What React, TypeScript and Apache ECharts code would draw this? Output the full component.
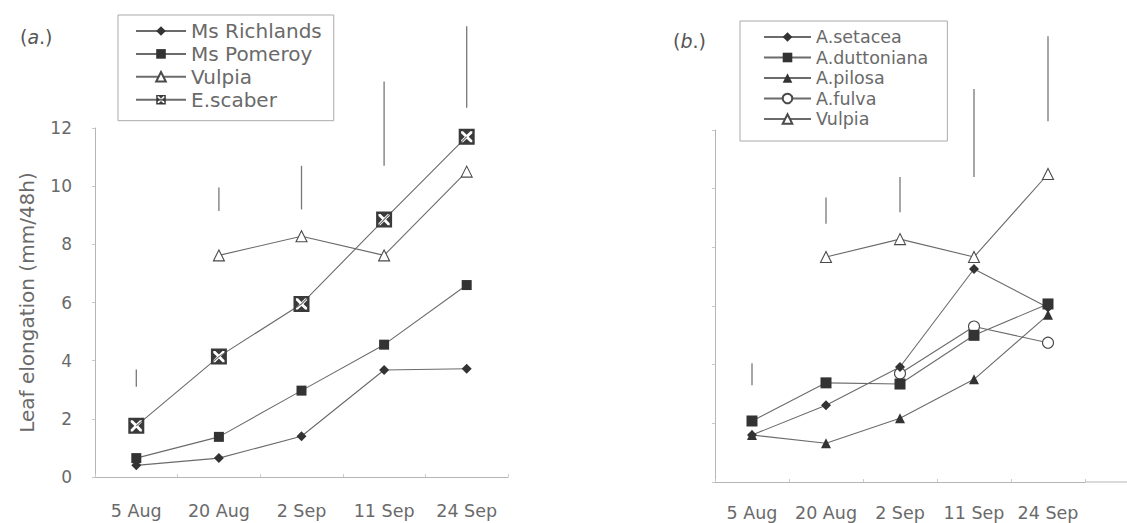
import React, { useEffect, useRef } from "react";
import * as echarts from "echarts";

const categories = ["5 Aug", "20 Aug", "2 Sep", "11 Sep", "24 Sep"];

// Panel (a.)
const msRichlands = [0.4, 0.65, 1.4, 3.68, 3.72];
const msPomeroy = [0.65, 1.38, 2.97, 4.55, 6.6];
const vulpiaA = [null, 7.62, 8.28, 7.62, 10.5];
const eScaber = [1.76, 4.14, 5.95, 8.85, 11.7];
const lsdA = [
  [3.1, 3.7],
  [9.15, 9.95],
  [9.2, 10.7],
  [10.7, 13.6],
  [12.7, 15.5],
];

// Panel (b.)
const aSetacea = [1.6, 2.62, 3.92, 7.26, 5.95];
const aDuttoniana = [2.08, 3.38, 3.34, 5.0, 6.07];
const aPilosa = [1.6, 1.32, 2.17, 3.5, 5.7];
const aFulva = [null, null, 3.7, 5.3, 4.75];
const vulpiaB = [null, 7.67, 8.28, 7.67, 10.5];
const lsdB = [
  [3.3, 4.05],
  [8.8, 9.7],
  [9.2, 10.4],
  [10.4, 13.4],
  [12.3, 15.2],
];

const legendA = ["Ms Richlands", "Ms Pomeroy", "Vulpia", "E.scaber"];
const legendB = ["A.setacea", "A.duttoniana", "A.pilosa", "A.fulva", "Vulpia"];

const FONT = "DejaVu Sans";
const LINE = "#6b6b6b";
const DARK = "#333333";
const AXIS = "#b5b5b5";
const TEXT = "#6a6a6a";

const crossSquare =
  "path://M0 0L20 0L20 3L0 3Z M0 17L20 17L20 20L0 20Z M0 3L3 3L3 17L0 17Z M17 3L20 3L20 17L17 17Z M5.5 3L14.5 3L10 7.5Z M5.5 17L14.5 17L10 12.5Z M3 5.5L3 14.5L7.5 10Z M17 5.5L17 14.5L12.5 10Z";

function lineSeries(name: string, data: (number | null)[], idx: number, symbol: string, size: number, filled: boolean, extra: any = {}) {
  return {
    type: "line",
    name,
    data,
    xAxisIndex: idx,
    yAxisIndex: idx,
    symbol,
    symbolSize: size,
    showSymbol: true,
    connectNulls: true,
    lineStyle: { color: LINE, width: 1.1 },
    itemStyle: filled
      ? { color: DARK, borderColor: DARK, borderWidth: 0 }
      : { color: "#ffffff", borderColor: "#4a4a4a", borderWidth: 1.1 },
    emphasis: { disabled: true },
    z: 3,
    ...extra,
  };
}

function errorSeries(name: string, data: number[][], idx: number) {
  return {
    type: "custom",
    name,
    xAxisIndex: idx,
    yAxisIndex: idx,
    clip: false,
    silent: true,
    data: data.map((d, i) => [i, d[0], d[1]]),
    encode: { x: 0, y: [1, 2] },
    renderItem: (params: any, api: any) => {
      const p1 = api.coord([api.value(0), api.value(1)]);
      const p2 = api.coord([api.value(0), api.value(2)]);
      return {
        type: "line",
        shape: { x1: p1[0], y1: p1[1], x2: p2[0], y2: p2[1] },
        style: { stroke: "#777777", lineWidth: 1.3 },
      };
    },
    z: 1,
  };
}

export default function App() {
  const ref = useRef<HTMLDivElement>(null);

  useEffect(() => {
    if (!ref.current) return;
    const chart = echarts.init(ref.current, undefined, { renderer: "svg" });

    const xAxisBase = (idx: number, margin: number) => ({
      type: "category",
      gridIndex: idx,
      data: categories,
      boundaryGap: true,
      axisLine: { lineStyle: { color: AXIS, width: 1 } },
      axisTick: { show: true, length: 3, inside: true, lineStyle: { color: "#cccccc" } },
      axisLabel: { color: TEXT, fontFamily: FONT, fontSize: 17.5, margin, interval: 0, hideOverlap: false },
      splitLine: { show: false },
    });

    const yAxisBase = (idx: number, showLabels: boolean) => ({
      type: "value",
      gridIndex: idx,
      min: 0,
      max: 12,
      interval: 2,
      axisLine: { show: true, lineStyle: { color: AXIS, width: 1 } },
      axisTick: { show: true, length: 3, lineStyle: { color: "#c8c8c8" } },
      axisLabel: { show: showLabels, color: TEXT, fontFamily: FONT, fontSize: 17, margin: 23 },
      splitLine: { show: false },
    });

    const titleRich = {
      p: { fontFamily: FONT, fontSize: 19, color: "#555", fontWeight: "normal" },
      i: { fontFamily: FONT, fontSize: 19, color: "#555", fontStyle: "italic", fontWeight: "normal" },
    };

    chart.setOption({
      animation: false,
      backgroundColor: "#ffffff",
      title: [
        {
          text: "{p|(}{i|a}{p|.)}",
          left: 15,
          top: 22,
          textStyle: { fontWeight: "normal", rich: titleRich },
        },
        {
          text: "{p|(}{i|b}{p|.)}",
          left: 668,
          top: 26,
          textStyle: { fontWeight: "normal", rich: titleRich },
        },
      ],
      legend: [
        {
          data: legendA,
          orient: "vertical",
          left: 118,
          top: 15,
          itemWidth: 50,
          itemHeight: 12,
          itemGap: 2.9,
          padding: [6, 12, 11, 17],
          borderColor: "#aaaaaa",
          borderWidth: 1,
          selectedMode: false,
          textStyle: { fontFamily: FONT, fontSize: 20, color: TEXT, lineHeight: 18 },
        },
        {
          data: legendB,
          orient: "vertical",
          left: 740,
          top: 21,
          itemWidth: 47,
          itemHeight: 12,
          itemGap: 2.5,
          padding: [7, 19, 13, 23],
          borderColor: "#aaaaaa",
          borderWidth: 1,
          selectedMode: false,
          textStyle: { fontFamily: FONT, fontSize: 17.5, color: TEXT, lineHeight: 18 },
        },
      ],
      grid: [
        { left: 95, top: 128, width: 413, bottom: 46, containLabel: false },
        { left: 715, top: 130, width: 370, bottom: 41, containLabel: false },
      ],
      xAxis: [xAxisBase(0, 25), xAxisBase(1, 22)],
      yAxis: [
        {
          ...yAxisBase(0, true),
          name: "Leaf elongation (mm/48h)",
          nameLocation: "middle",
          nameGap: 58,
          nameRotate: 90,
          nameTextStyle: { fontFamily: FONT, fontSize: 20, color: TEXT },
        },
        yAxisBase(1, false),
      ],
      graphic: [
        {
          type: "line",
          shape: { x1: 1085, y1: 482, x2: 1127, y2: 482 },
          style: { stroke: AXIS, lineWidth: 1 },
          silent: true,
        },
      ],
      series: [
        errorSeries("LSD a", lsdA, 0),
        lineSeries("Ms Richlands", msRichlands, 0, "diamond", 10, true),
        lineSeries("Ms Pomeroy", msPomeroy, 0, "rect", 10, true),
        lineSeries("Vulpia", vulpiaA, 0, "triangle", 11, false),
        lineSeries("E.scaber", eScaber, 0, crossSquare, 16, true, { itemStyle: { color: "#3a3a3a" } }),

        errorSeries("LSD b", lsdB, 1),
        lineSeries("A.fulva", aFulva, 1, "circle", 11, false),
        lineSeries("A.setacea", aSetacea, 1, "diamond", 10, true),
        lineSeries("A.duttoniana", aDuttoniana, 1, "rect", 11, true),
        lineSeries("A.pilosa", aPilosa, 1, "triangle", 10, true),
        lineSeries("Vulpia", vulpiaB, 1, "triangle", 11, false),
      ],
    });

    return () => chart.dispose();
  }, []);

  return (
    <div
      ref={ref}
      style={{ position: "absolute", left: 0, top: 0, width: 1127, height: 523, background: "#fff" }}
    />
  );
}
